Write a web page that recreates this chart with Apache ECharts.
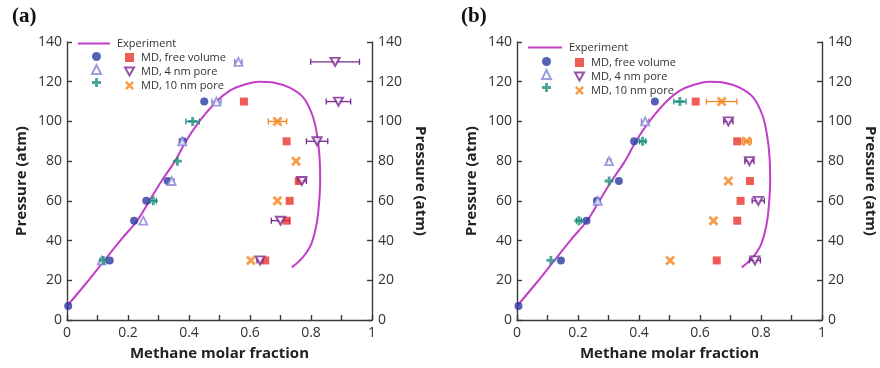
<!DOCTYPE html>
<html><head><meta charset="utf-8">
<script src="https://cdn.jsdelivr.net/npm/echarts@6/dist/echarts.min.js"></script>
<style>html,body{margin:0;padding:0;background:#fff}#c{width:880px;height:368px}</style>
</head><body><div id="c"></div>
<script>
// Experimental phase envelope (methane molar fraction, pressure atm)
const CURVE_X = [0,0.06,0.12,0.18,0.23,0.27,0.31,0.354,0.39,0.434,0.49,0.534,0.58,0.63,0.68,0.73,0.775,0.805,0.82,0.828,0.83,0.826,0.818,0.80,0.77,0.737];
const CURVE_P = [7,18,29.5,41,50,60,70,80,90,100,110,115.5,118.5,120,119.5,117,112,103,93,82,70,58,48,38,31,26.5];
const X_TICKS = [0,0.2,0.4,0.6,0.8,1];
const P_TICKS = [0,20,40,60,80,100,120,140];

// Panel (a)
const A_FV_LIQ_X = [0.004,0.14,0.22,0.26,0.33,0.38,0.45];
const A_FV_LIQ_P = [7,30,50,60,70,90,110];
const A_FV_VAP_X = [0.65,0.72,0.73,0.76,0.72,0.58];
const A_FV_VAP_P = [30,50,60,70,90,110];
const A_P4_LIQ_X = [0.114,0.25,0.343,0.378,0.49,0.562];
const A_P4_LIQ_P = [30,50,70,90,110,130];
const A_P4_LIQ_E = [0,0,0.008,0.01,0.015,0.012];
const A_P4_VAP_X = [0.633,0.70,0.77,0.82,0.89,0.879];
const A_P4_VAP_P = [30,50,70,90,110,130];
const A_P4_VAP_E = [0.01,0.03,0.015,0.035,0.04,0.08];
const A_P10_LIQ_X = [0.119,0.283,0.362,0.412];
const A_P10_LIQ_P = [30,60,80,100];
const A_P10_LIQ_E = [0.01,0.01,0,0.022];
const A_P10_VAP_X = [0.603,0.69,0.751,0.69];
const A_P10_VAP_P = [30,60,80,100];
const A_P10_VAP_E = [0,0,0,0.03];

// Panel (b)
const B_FV_LIQ_X = [0.005,0.144,0.228,0.262,0.334,0.384,0.452];
const B_FV_LIQ_P = [7,30,50,60,70,90,110];
const B_FV_VAP_X = [0.655,0.722,0.733,0.764,0.722,0.586];
const B_FV_VAP_P = [30,50,60,70,90,110];
const B_P4_LIQ_X = [0.265,0.302,0.42];
const B_P4_LIQ_P = [60,80,100];
const B_P4_LIQ_E = [0.008,0.006,0.012];
const B_P4_VAP_X = [0.78,0.791,0.762,0.693];
const B_P4_VAP_P = [30,60,80,100];
const B_P4_VAP_E = [0.018,0.02,0.015,0.015];
const B_P10_LIQ_X = [0.111,0.203,0.302,0.412,0.534];
const B_P10_LIQ_P = [30,50,70,90,110];
const B_P10_LIQ_E = [0,0.008,0,0.01,0.02];
const B_P10_VAP_X = [0.502,0.644,0.693,0.753,0.671];
const B_P10_VAP_P = [30,50,70,90,110];
const B_P10_VAP_E = [0,0,0,0.015,0.05];

const C = {line:'#c23ec6', fvl:'#2b3aa3', fvv:'#e8352b', p4l:'#8585d6', p4v:'#7a2891', p10l:'#1f8f80', p10v:'#f5841f'};
const PLUS = 'path://M3.4,0H6.6V3.4H10V6.6H6.6V10H3.4V6.6H0V3.4H3.4Z';
const CROSS = 'path://M0,2L2,0L5,3L8,0L10,2L7,5L10,8L8,10L5,7L2,10L0,8L3,5Z';
const INV_TRI = 'path://M0,0H10L5,9Z';
const FONT = 'Open Sans';

const zip = (xs, ps) => xs.map((x,i)=>[x, ps[i]]);
const zipE = (xs, ps, es) => xs.map((x,i)=>[x, ps[i], es[i]]);

const STY = {
  fvl: {name:'fv_liq', symbol:'circle', symbolSize:8, itemStyle:{color:C.fvl}},
  fvv: {name:'MD, free volume', symbol:'rect', symbolSize:8, itemStyle:{color:C.fvv}},
  p4l: {name:'p4_liq', symbol:'triangle', symbolSize:8, itemStyle:{color:'#fff', borderColor:C.p4l, borderWidth:1.8}},
  p4v: {name:'MD, 4 nm pore', symbol:INV_TRI, symbolSize:[9,8], itemStyle:{color:'#fff', borderColor:C.p4v, borderWidth:2}},
  p10l:{name:'p10_liq', symbol:PLUS, symbolSize:9, itemStyle:{color:C.p10l}},
  p10v:{name:'MD, 10 nm pore', symbol:CROSS, symbolSize:10, itemStyle:{color:C.p10v}}
};

function errRender(params, api){
  const x = api.value(0), y = api.value(1), e = api.value(2);
  if (!e) return null;
  const a = api.coord([x-e, y]), b = api.coord([x+e, y]);
  const c = api.visual('color'), h = 3;
  const st = {stroke:c, lineWidth:1.3};
  return {type:'group', children:[
    {type:'line', shape:{x1:a[0],y1:a[1],x2:b[0],y2:b[1]}, style:st},
    {type:'line', shape:{x1:a[0],y1:a[1]-h,x2:a[0],y2:a[1]+h}, style:st},
    {type:'line', shape:{x1:b[0],y1:b[1]-h,x2:b[0],y2:b[1]+h}, style:st}
  ]};
}

function panelSeries(gi, d){
  const out = [];
  out.push({type:'line', name:'Experiment', xAxisIndex:gi, yAxisIndex:gi*2, data:zip(CURVE_X, CURVE_P),
    smooth:0.35, symbol:'none', lineStyle:{color:C.line, width:2}, itemStyle:{color:C.line}, z:2});
  [['p4v', d.p4v], ['p4l', d.p4l], ['p10l', d.p10l], ['p10v', d.p10v]].forEach(([k, v])=>{
    if (v.e) out.push({type:'custom', name:'err_'+k, xAxisIndex:gi, yAxisIndex:gi*2, renderItem:errRender,
      encode:{x:0, y:1}, data:zipE(v.x, v.p, v.e), itemStyle:{color:C[k]}, z:3, silent:true});
  });
  ['fvl','fvv','p4l','p4v','p10l','p10v'].forEach(k=>{
    const s = STY[k];
    out.push(Object.assign({type:'scatter', xAxisIndex:gi, yAxisIndex:gi*2, data:zip(d[k].x, d[k].p), z:4}, JSON.parse(JSON.stringify(s))));
  });
  return out;
}

const A = {fvl:{x:A_FV_LIQ_X,p:A_FV_LIQ_P}, fvv:{x:A_FV_VAP_X,p:A_FV_VAP_P},
  p4l:{x:A_P4_LIQ_X,p:A_P4_LIQ_P,e:A_P4_LIQ_E}, p4v:{x:A_P4_VAP_X,p:A_P4_VAP_P,e:A_P4_VAP_E},
  p10l:{x:A_P10_LIQ_X,p:A_P10_LIQ_P,e:A_P10_LIQ_E}, p10v:{x:A_P10_VAP_X,p:A_P10_VAP_P,e:A_P10_VAP_E}};
const B = {fvl:{x:B_FV_LIQ_X,p:B_FV_LIQ_P}, fvv:{x:B_FV_VAP_X,p:B_FV_VAP_P},
  p4l:{x:B_P4_LIQ_X,p:B_P4_LIQ_P,e:B_P4_LIQ_E}, p4v:{x:B_P4_VAP_X,p:B_P4_VAP_P,e:B_P4_VAP_E},
  p10l:{x:B_P10_LIQ_X,p:B_P10_LIQ_P,e:B_P10_LIQ_E}, p10v:{x:B_P10_VAP_X,p:B_P10_VAP_P,e:B_P10_VAP_E}};

const AX = {lineStyle:{color:'#3a3a3a', width:1.4}};
function xAxis(gi){
  return {type:'value', gridIndex:gi, min:0, max:1, interval:0.2,
    axisLine:{show:true, onZero:false, lineStyle:AX.lineStyle},
    axisTick:{show:true, inside:true, length:5, lineStyle:AX.lineStyle},
    minorTick:{show:true, splitNumber:2, length:5, lineStyle:AX.lineStyle},
    splitLine:{show:false},
    axisLabel:{fontFamily:FONT, fontSize:14, color:'#333', margin:6,
      formatter:v=>{const t = X_TICKS.find(q=>Math.abs(q-v)<1e-6); return t===undefined?'':String(t);}},
    name:'Methane molar fraction', nameLocation:'middle', nameGap:26,
    nameTextStyle:{fontFamily:FONT, fontSize:15, fontWeight:'bold', color:'#222'}};
}
function yAxis(gi, pos){
  return {type:'value', gridIndex:gi, position:pos, min:0, max:140, interval:20,
    axisLine:{show:true, onZero:false, lineStyle:AX.lineStyle},
    axisTick:{show:true, inside:true, length:5, lineStyle:AX.lineStyle},
    splitLine:{show:false},
    axisLabel:{fontFamily:FONT, fontSize:14, color:'#333', margin:pos==='left'?5:6,
      formatter:v=>{const t = P_TICKS.find(q=>Math.abs(q-v)<1e-6); return t===undefined?'':String(t);}},
    name:'Pressure (atm)', nameLocation:'middle', nameGap:pos==='left'?38:41,
    nameRotate:pos==='left'?90:-90,
    nameTextStyle:{fontFamily:FONT, fontSize:15, fontWeight:'bold', color:'#222'}};
}

function legends(lineLeft, lineW, top, circLeft, sqLeft, rowTop){
  const common = {orient:'vertical', itemWidth:9, itemHeight:9, itemGap:3, padding:0,
    textStyle:{fontFamily:FONT, fontSize:11, lineHeight:11, color:'#333', padding:[0,0,0,2]}, selectedMode:false};
  return [
    Object.assign({}, common, {left:lineLeft, top:top, itemWidth:lineW, itemHeight:2,
      data:[{name:'Experiment', icon:'rect', itemStyle:{color:C.line}}]}),
    Object.assign({}, common, {left:circLeft, top:rowTop, data:['fv_liq','p4_liq','p10_liq'], formatter:()=>''}),
    Object.assign({}, common, {left:sqLeft, top:rowTop, data:['MD, free volume','MD, 4 nm pore','MD, 10 nm pore']})
  ];
}

const option = {
  animation:false,
  backgroundColor:'#fff',
  title:[
    {text:'(a)', left:7, top:1, textStyle:{fontFamily:'Liberation Serif', fontWeight:'bold', fontSize:21, color:'#111'}},
    {text:'(b)', left:456, top:1, textStyle:{fontFamily:'Liberation Serif', fontWeight:'bold', fontSize:21, color:'#111'}}
  ],
  grid:[
    {left:67, top:42, width:305, height:278},
    {left:517, top:42, width:305, height:278}
  ],
  xAxis:[xAxis(0), xAxis(1)],
  yAxis:[yAxis(0,'left'), yAxis(0,'right'), yAxis(1,'left'), yAxis(1,'right')],
  legend:[].concat(
    legends(78, 32, 38, 91, 124, 52),
    legends(528, 34, 42, 541, 574, 57)
  ),
  series:[].concat(panelSeries(0, A), panelSeries(1, B))
};
const chart = echarts.init(document.getElementById('c'), null, {renderer:'canvas'});
chart.setOption(option);
</script></body></html>
